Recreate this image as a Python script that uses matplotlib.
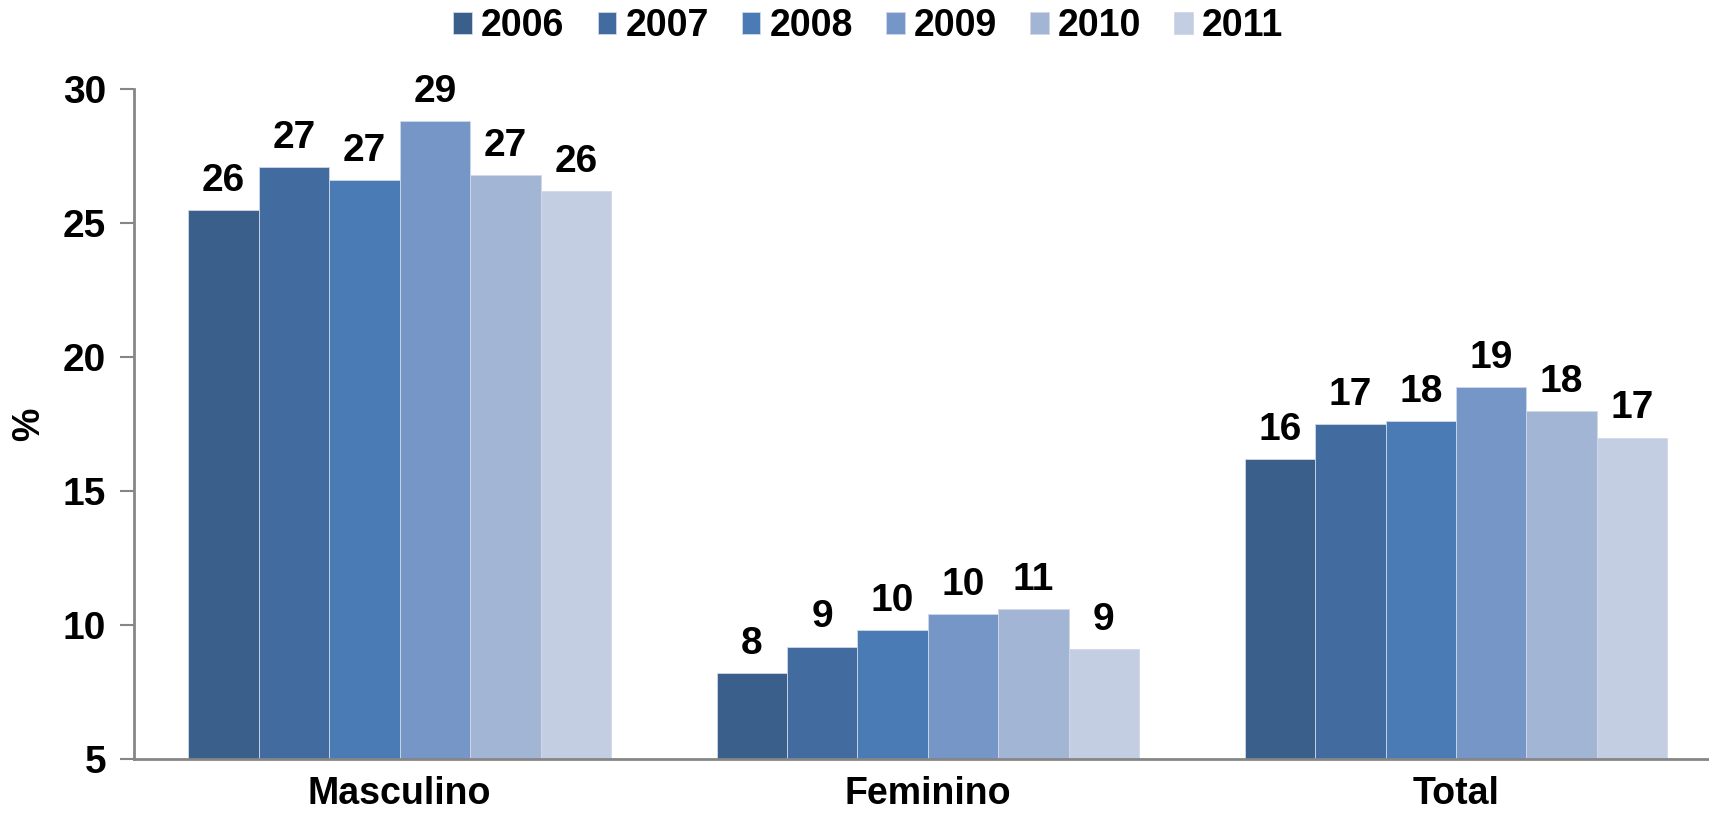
import matplotlib.pyplot as plt
import numpy as np

plt.rcParams['font.family'] = ['Liberation Sans', 'DejaVu Sans']
plt.rcParams['font.weight'] = 'bold'

# data
categories = ['Masculino', 'Feminino', 'Total']
years = ['2006', '2007', '2008', '2009', '2010', '2011']
values = {
    '2006': [25.5, 8.2, 16.2],
    '2007': [27.1, 9.2, 17.5],
    '2008': [26.6, 9.8, 17.6],
    '2009': [28.8, 10.4, 18.9],
    '2010': [26.8, 10.6, 18.0],
    '2011': [26.2, 9.1, 17.0],
}
labels = {
    '2006': [26, 8, 16],
    '2007': [27, 9, 17],
    '2008': [27, 10, 18],
    '2009': [29, 10, 19],
    '2010': [27, 11, 18],
    '2011': [26, 9, 17],
}
colors = ['#3A5F8B', '#426C9F', '#4A7BB5', '#7596C6', '#A2B5D5', '#C3CEE3']

fig = plt.figure(figsize=(17.09, 8.18), dpi=100)
ax = fig.add_axes([0.0784, 0.072, 0.921, 0.819])

x = np.arange(len(categories))
w = 0.8 / len(years)
for i, yr in enumerate(years):
    pos = x - 0.4 + w * (i + 0.5)
    bars = ax.bar(pos, values[yr], w, bottom=0, color=colors[i], label=yr,
                  edgecolor='#D0D8E8', linewidth=0.6)
    ax.bar_label(bars, labels=[str(v) for v in labels[yr]], padding=8,
                 fontsize=28, fontweight='bold')

ax.set_ylim(5, 30)
ax.set_xlim(-0.503, 2.477)
ax.set_yticks([5, 10, 15, 20, 25, 30])
ax.set_xticks(x)
ax.set_xticklabels(categories, fontsize=27, fontweight='bold')
ax.tick_params(axis='x', length=0, pad=12)
ax.tick_params(axis='y', labelsize=28, length=10, width=1.5, color='#868686', pad=10)
for lab in ax.get_yticklabels():
    lab.set_fontweight('bold')

for s in ['top', 'right']:
    ax.spines[s].set_visible(False)
for s in ['left', 'bottom']:
    ax.spines[s].set_color('#868686')
    ax.spines[s].set_linewidth(2)

ax.set_ylabel('%', fontsize=27, fontweight='bold')
ax.yaxis.set_label_coords(-0.055, 0.5)

fig.legend(loc='center', bbox_to_anchor=(0.508, 0.968), ncol=6, frameon=False,
           prop={'size': 27, 'weight': 'bold'}, handlelength=0.5, handleheight=0.5,
           handletextpad=0.24, columnspacing=0.88)

plt.savefig('out.png', dpi=100)
